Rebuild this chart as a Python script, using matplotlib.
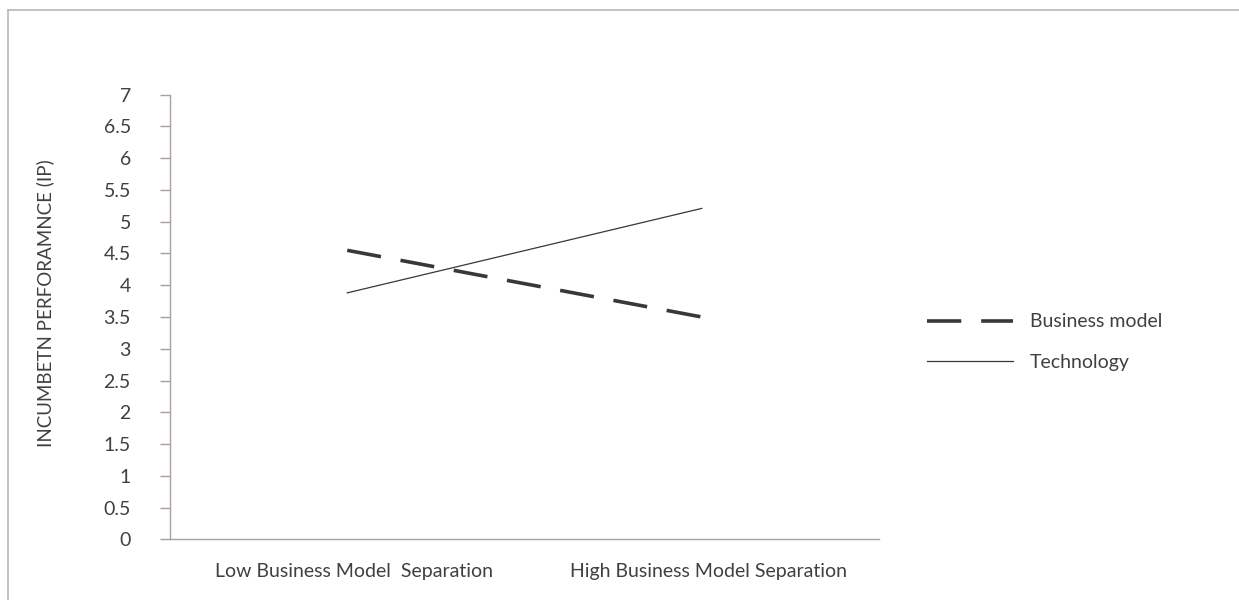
import matplotlib
matplotlib.use("Agg")
import matplotlib.pyplot as plt
from matplotlib.lines import Line2D
from matplotlib.transforms import ScaledTranslation

plt.rcParams['font.family'] = ['Lato', 'DejaVu Sans']

categories = ["Low Business Model  Separation", "High Business Model Separation"]
business_model = [4.55, 3.50]
technology = [3.88, 5.21]
yticks = [0, 0.5, 1, 1.5, 2, 2.5, 3, 3.5, 4, 4.5, 5, 5.5, 6, 6.5, 7]
ytick_labels = ["0", "0.5", "1", "1.5", "2", "2.5", "3", "3.5", "4", "4.5",
                "5", "5.5", "6", "6.5", "7"]

TEXT = "#404040"
AXIS = "#A8A0A0"
LINE = "#383838"
FS = 14

fig = plt.figure(figsize=(12.39, 6.0), dpi=100)
ax = fig.add_axes([170 / 1239, 1 - 539.3 / 600, (879 - 170) / 1239, (539.3 - 94.7) / 600])

x = [0.5, 1.5]
ax.plot(x, business_model, color=LINE, lw=2.6, linestyle=(0, (9.5, 5.5)),
        solid_capstyle='butt', dash_capstyle='butt', label="Business model")
ax.plot(x, technology, color=LINE, lw=0.9, label="Technology")

ax.set_xlim(0, 2)
ax.set_ylim(0, 7)
ax.set_yticks(yticks)
ax.set_yticklabels(ytick_labels)
ax.set_xticks(x)
ax.set_xticklabels(categories)
ax.tick_params(axis='y', length=7.2, width=1, color=AXIS, labelsize=FS,
               labelcolor=TEXT, pad=21)
ax.tick_params(axis='x', length=0, labelsize=FS, labelcolor=TEXT, pad=17)

# nudge category labels slightly to the right
shift = ScaledTranslation(7 / 100, 0, fig.dpi_scale_trans)
for lbl in ax.get_xticklabels():
    lbl.set_transform(lbl.get_transform() + shift)

for side in ("top", "right"):
    ax.spines[side].set_visible(False)
for side in ("left", "bottom"):
    ax.spines[side].set_color(AXIS)
    ax.spines[side].set_linewidth(1)

fig.text(45 / 1239, 1 - 303 / 600, "INCUMBETN PERFORAMNCE (IP)", rotation=90,
         ha='center', va='center', fontsize=13.5, color=TEXT)

leg = ax.legend(loc='center left', bbox_to_anchor=(927 / 1239, 1 - 342 / 600),
                bbox_transform=fig.transFigure, frameon=False, fontsize=FS,
                handlelength=4.4, handletextpad=0.9, labelspacing=1.2,
                borderaxespad=0, borderpad=0)
for t in leg.get_texts():
    t.set_color(TEXT)

# outer chart border (left and top edges visible)
fig.add_artist(Line2D([8 / 1239, 8 / 1239], [0, 1 - 10 / 600], transform=fig.transFigure,
                      color="#BDB5B5", lw=1.2))
fig.add_artist(Line2D([8 / 1239, 1], [1 - 10 / 600, 1 - 10 / 600], transform=fig.transFigure,
                      color="#BDB5B5", lw=1.2))

fig.savefig("out.png", dpi=100)
